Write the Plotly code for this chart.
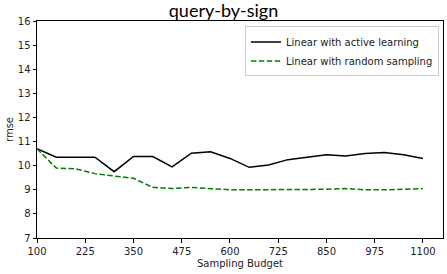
import plotly.graph_objects as go

budget = [100, 150, 200, 250, 300, 350, 400, 450, 500, 550, 600, 650, 700, 750, 800, 850, 900, 950, 1000, 1050, 1100]
active_rmse = [10.7, 10.35, 10.35, 10.35, 9.75, 10.38, 10.38, 9.95, 10.52, 10.58, 10.3, 9.93, 10.03, 10.25, 10.35, 10.45, 10.4, 10.5, 10.55, 10.45, 10.3]
random_rmse = [10.7, 9.9, 9.87, 9.67, 9.57, 9.48, 9.1, 9.05, 9.1, 9.05, 9.0, 9.0, 9.0, 9.02, 9.0, 9.02, 9.05, 9.0, 9.0, 9.02, 9.05]
x_ticks = [100, 225, 350, 475, 600, 725, 850, 975, 1100]
y_ticks = [7, 8, 9, 10, 11, 12, 13, 14, 15, 16]

fig = go.Figure()
fig.add_trace(go.Scatter(x=budget, y=active_rmse, mode="lines", name="Linear with active learning",
                         line=dict(color="black", width=1.5)))
fig.add_trace(go.Scatter(x=budget, y=random_rmse, mode="lines", name="Linear with random sampling",
                         line=dict(color="green", width=1.5, dash="5.5px,2.4px")))

axis_common = dict(showgrid=False, zeroline=False, showline=True, linecolor="black", linewidth=1,
                   mirror=True, ticks="outside", ticklen=3.5, tickcolor="black", automargin=False,
                   tickfont=dict(family="DejaVu Sans", size=10, color="#222"))

fig.update_layout(
    width=447, height=274,
    margin=dict(l=37, r=4, t=21, b=36),
    paper_bgcolor="white", plot_bgcolor="white",
    title=dict(text="query-by-sign", x=0.5, xanchor="center", y=0.985, yanchor="top",
               font=dict(family="Lato", size=18, color="black")),
    xaxis=dict(range=[100, 1152], tickvals=x_ticks,
               title=dict(text="Sampling Budget", font=dict(family="DejaVu Sans", size=10, color="#222"), standoff=4),
               **axis_common),
    yaxis=dict(range=[7, 16], tickvals=y_ticks,
               title=dict(text="rmse", font=dict(family="DejaVu Sans", size=10, color="#222"), standoff=2),
               **axis_common),
    legend=dict(x=0.99, y=0.975, xanchor="right", yanchor="top", bgcolor="white",
                bordercolor="#ccc", borderwidth=1, font=dict(family="DejaVu Sans", size=10, color="#222"),
                tracegroupgap=0),
    showlegend=True,
)

fig.write_html("out.html", config={"displayModeBar": False},
               post_script="document.body.style.margin='0px';document.body.style.padding='0px';")
